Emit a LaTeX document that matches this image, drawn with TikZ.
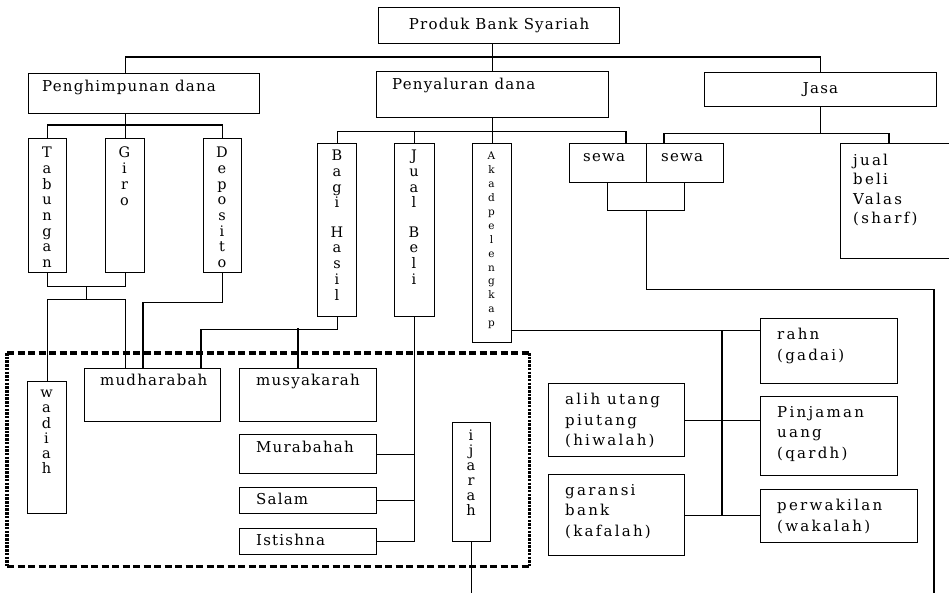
\documentclass[tikz,border=0pt]{standalone}
\usepackage{fontspec}
\setmainfont[LetterSpace=8]{DejaVu Serif}
\newfontfamily\bigfont[LetterSpace=15]{DejaVu Serif}
\usetikzlibrary{calc}

\tikzset{
  blk/.style={draw, line width=1.1pt, inner sep=0pt, anchor=north west, font=\fontsize{15}{18}\selectfont},
  lbl/.style={inner sep=0pt, anchor=base west, font=\fontsize{15}{18}\selectfont},
  big/.style={inner sep=0pt, anchor=north west, align=left, font=\bigfont\fontsize{15}{20.5}\selectfont},
  vert/.style={inner sep=0pt, anchor=north, align=center, font=\fontsize{14.5}{15.7}\selectfont},
  link/.style={line width=1.1pt},
  thinlink/.style={line width=0.7pt},
  hdash/.style={line width=3.5pt, dash pattern=on 7pt off 3.5pt},
  vdash/.style={line width=3.5pt, dash pattern=on 2.5pt off 1.2pt},
}

\begin{document}
\begin{tikzpicture}[x=1pt, y=-1pt]
    \useasboundingbox (0,0) rectangle (949,593);
    % top level
    \node[blk, minimum width=241, minimum height=36] (produk) at (378,7) {Produk Bank Syariah};
    \node[blk, minimum width=231, minimum height=40] (himpun) at (28,73) {};
    \node[lbl] (himpunT) at (42,92) {Penghimpunan dana};
    \node[blk, minimum width=232, minimum height=46] (salur) at (376,71) {};
    \node[lbl] (salurT) at (392,90) {Penyaluran dana};
    \node[blk, minimum width=232, minimum height=34] (jasa) at (704,72) {Jasa};
    % penghimpunan dana
    \node[blk, minimum width=38, minimum height=134] (tabungan) at (28,138) {};
    \node[vert] (tabunganT) at (47,147) {T\\a\\b\\u\\n\\g\\a\\n};
    \node[blk, minimum width=39, minimum height=134] (giro) at (105,138) {};
    \node[vert] (giroT) at (124.5,147) {G\\i\\r\\o};
    \node[blk, minimum width=38, minimum height=134] (deposito) at (203,138) {};
    \node[vert] (depositoT) at (222,147) {D\\e\\p\\o\\s\\i\\t\\o};
    % penyaluran dana
    \node[blk, minimum width=39, minimum height=173] (bagi) at (317,143) {};
    \node[vert] (bagiT) at (337,150) {B\\a\\g\\i\\[13.7pt]H\\a\\s\\i\\l};
    \node[blk, minimum width=40, minimum height=173] (jual) at (394,143) {};
    \node[vert] (jualT) at (414,150) {J\\u\\a\\l\\[13.7pt]B\\e\\l\\i};
    \node[blk, minimum width=39, minimum height=199] (akad) at (472,143) {};
    \node[vert, font=\fontsize{10.5}{13.9}\selectfont] (akadT) at (491.5,152) {A\\k\\a\\d\\p\\e\\l\\e\\n\\g\\k\\a\\p};
    \node[blk, minimum width=77, minimum height=39] (sewaA) at (569,143) {};
    \node[lbl] (sewaAT) at (583,162) {sewa};
    \node[blk, minimum width=77, minimum height=39] (sewaB) at (646,143) {};
    \node[lbl] (sewaBT) at (661,162) {sewa};
    \node[blk, minimum width=77, minimum height=28] (sewaC) at (607,182) {};
    % jasa
    \node[blk, minimum width=112, minimum height=115] (valas) at (840,143) {};
    \node[big, font=\bigfont\fontsize{15}{19.3}\selectfont] (valasT) at (853,154) {jual\\beli\\Valas\\(sharf)};
    % akad
    \node[minimum width=522, minimum height=213, inner sep=0pt, anchor=north west] (grp) at (7,353) {};
    \node[blk, minimum width=39, minimum height=132] (wadiah) at (27,381) {};
    \node[vert, font=\fontsize{14.5}{15.2}\selectfont] (wadiahT) at (46.5,390) {w\\a\\d\\i\\a\\h};
    \node[blk, minimum width=136, minimum height=53] (mudh) at (84,368) {};
    \node[lbl] (mudhT) at (100,385) {mudharabah};
    \node[blk, minimum width=137, minimum height=53] (musy) at (239,368) {};
    \node[lbl] (musyT) at (256,385) {musyakarah};
    \node[blk, minimum width=137, minimum height=39] (murab) at (239,434) {};
    \node[lbl] (murabT) at (256,452) {Murabahah};
    \node[blk, minimum width=137, minimum height=26] (salam) at (239,487) {};
    \node[lbl] (salamT) at (256,504) {Salam};
    \node[blk, minimum width=137, minimum height=26] (istis) at (239,528) {};
    \node[lbl] (istisT) at (256,545) {Istishna};
    \node[blk, minimum width=38, minimum height=119] (ijarah) at (452,422) {};
    \node[vert, font=\fontsize{14.5}{15}\selectfont] (ijarahT) at (471,430) {i\\j\\a\\r\\a\\h};
    \node[blk, minimum width=136, minimum height=73] (hiwal) at (548,383) {};
    \node[big] (hiwalT) at (565,393) {alih utang\\piutang\\(hiwalah)};
    \node[blk, minimum width=136, minimum height=81] (kafal) at (548,474) {};
    \node[big] (kafalT) at (565,484) {garansi\\bank\\(kafalah)};
    \node[blk, minimum width=137, minimum height=65] (rahn) at (760,318) {};
    \node[big] (rahnT) at (777,328) {rahn\\(gadai)};
    \node[blk, minimum width=137, minimum height=79] (pinj) at (760,396) {};
    \node[big] (pinjT) at (777,406) {Pinjaman\\uang\\(qardh)};
    \node[blk, minimum width=157, minimum height=53] (perw) at (760,489) {};
    \node[big] (perwT) at (777,499) {perwakilan\\(wakalah)};
    % dashed frame
    \draw[hdash] (grp.north west) -- (grp.north east);
    \draw[hdash] (grp.south west) -- (grp.south east);
    \draw[vdash] (grp.north west) -- (grp.south west);
    \draw[vdash] (grp.north east) -- (grp.south east);
    % connectors, top
    \draw[link] (produk.south -| salur.north) -- (salur.north);
    \coordinate (bus1) at (0,57);
    \draw[link] (giro.north |- himpun.north) -- (giro.north |- bus1) -- (jasa.north |- bus1) -- (jasa.north);
    % penghimpunan
    \draw[link] (giro.north |- himpun.south) -- (giro.north);
    \draw[link] (tabungan.north) -- ++(0,-13) -| (deposito.north);
    \draw[link] (tabungan.south) -- ++(0,13) coordinate (tg) -| (giro.south);
    \draw[link] ($(tg)!.5!(giro.south |- tg)$) -- ++(0,13) coordinate (tgm);
    \draw[link] (wadiah.north) |- (tgm) -| (giro.south |- mudh.north);
    \draw[link] (deposito.south) -- ++(0,29) -| ([xshift=59]mudh.north west);
    % penyaluran
    \draw[link] (salur.south) -- ++(0,13) coordinate (bus2);
    \draw[link] (bagi.north) |- (bus2) -| ([xshift=57]sewaA.north west);
    \draw[link] (jual.north) -- (jual.north |- bus2);
    \draw[link] (akad.north) -- (akad.north |- bus2);
    \draw[link] (bagi.south) -- ++(0,12) coordinate (bus4) -| ([xshift=117]mudh.north west);
    \draw[link] ([xshift=59]musy.north west) -- ++(0,-40);
    \draw[link] (jual.south) |- (istis.east);
    \draw[thinlink] (murab.east) -- (murab.east -| jual.south);
    \draw[link] (salam.east) -- (salam.east -| jual.south);
    % jasa
    \draw[link] (jasa.south) -- ++(0,26) coordinate (bus3);
    \draw[link] ([xshift=18]sewaB.north west) |- (bus3) -| ([xshift=49]valas.north west);
    \coordinate (sewaEnd) at (934,596);
    \draw[link] (sewaC.south) -- ++(0,78) -| (sewaEnd);
    \draw[link] (ijarah.south) -- (ijarah.south |- sewaEnd);
    % akad pelengkap
    \coordinate (akadOut) at ([yshift=13]akad.south east);
    \draw[link] (akadOut) -- (akadOut -| rahn.west);
    \coordinate (bus5) at (722,0);
    \draw[link] (akadOut -| bus5) -- (bus5 |- kafal.east);
    \draw[link] (hiwal.east) -- (hiwal.east -| pinj.west);
    \draw[link] (kafal.east) -- (kafal.east -| perw.west);
\end{tikzpicture}
\end{document}
